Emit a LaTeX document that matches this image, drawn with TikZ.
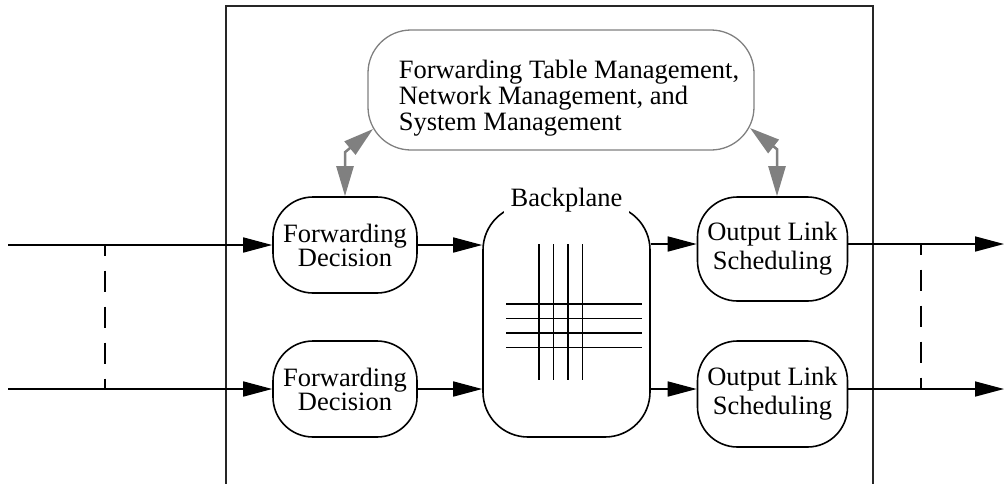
\documentclass[tikz,border=0pt]{standalone}
\usepackage{fontspec}
\setmainfont{Liberation Serif}
\usetikzlibrary{arrows.meta}
\begin{document}
\begin{tikzpicture}[x=1pt,y=-1pt,line width=1.6pt,
  stage/.style={draw, rounded corners=40pt, inner sep=0pt, align=center,
    minimum width=144pt, minimum height=96pt,
    font=\fontsize{26.5}{24}\selectfont},
  sched/.style={stage, minimum width=150pt, minimum height=104pt,
    font=\fontsize{26.5}{29}\selectfont},
  flow/.style={-{Triangle[length=29pt,width=15pt]}},
  ctrl/.style={draw=gray, line width=2.5pt,
    {Triangle[length=30pt,width=17pt]}-{Triangle[length=30pt,width=17pt]}},
  link/.style={dash pattern=on 21pt off 15pt, dash phase=10.5pt}]

\path[use as bounding box, clip] (0,0) rectangle (1006,483);

% router chassis
\node[draw, black!85, minimum width=647pt, minimum height=500pt, anchor=north west, inner sep=0pt] (router) at (225,5) {};

% management processor
\node[draw=gray, line width=1.3pt, rounded corners=43pt, minimum width=386pt, minimum height=120pt] (mgmt) at (561,90) {};
\node[anchor=north west, align=left, inner sep=0pt, font=\fontsize{26.5}{26}\selectfont] (mgmttxt) at (398,59)
  {Forwarding Table Management,\\Network Management, and\\System Management};

% line-card stages
\node[stage] (fd1) at (345,245) {Forwarding\\Decision};
\node[stage] (fd2) at (345,389) {Forwarding\\Decision};
\node[sched] (ols1) at (772.5,249) {Output Link\\Scheduling};
\node[sched, minimum height=106pt] (ols2) at (772.5,394) {Output Link\\Scheduling};

% switching fabric
\node[draw, rounded corners=45pt, minimum width=167pt, minimum height=232pt, inner sep=0pt] (bp) at (566.5,321) {};
\foreach \x in {539,553.5,568,582.5} \draw (\x,244) -- (\x,380);
\foreach \y in {304,318.5,333,347.5} \draw (506,\y) -- (642,\y);
\node[fill=white, inner xsep=7pt, inner ysep=1pt, anchor=base, font=\fontsize{26.5}{24}\selectfont] (bplabel) at (566.5,206) {Backplane};

% input and output ports
\coordinate (in1) at (8,245);
\coordinate (in2) at (8,389);
\coordinate (r1) at (0,244);
\coordinate (r2) at (0,389);
\coordinate (out1) at (1004,244);
\coordinate (out2) at (1004,389);

\draw[flow] (in1) -- (fd1.west);
\draw[flow] (in2) -- (fd2.west);
\draw[flow] (fd1.east) -- (fd1.east -| bp.west);
\draw[flow] (fd2.east) -- (fd2.east -| bp.west);
\draw[flow] (bp.east |- r1) -- (ols1.west |- r1);
\draw[flow] (bp.east |- r2) -- (ols2.west |- r2);
\draw[flow] (ols1.east |- r1) -- (out1);
\draw[flow] (ols2.east |- r2) -- (out2);

% physical links bundled on each side
\coordinate (la) at (105,245);
\coordinate (lb) at (105,389);
\coordinate (ra) at (921,244);
\coordinate (rb) at (921,389);
\draw[link] (la) -- (lb);
\draw[link] (ra) -- (rb);

% control paths to the management processor
\coordinate (gl) at (373,129);
\coordinate (gr) at (750,128);
\draw[ctrl] (gl) -- ([yshift=44pt]fd1.north) -- (fd1.north);
\draw[ctrl] (gr) -- ([xshift=4.5pt,yshift=47pt]ols1.north) -- ([xshift=4.5pt]ols1.north);
\end{tikzpicture}
\end{document}
